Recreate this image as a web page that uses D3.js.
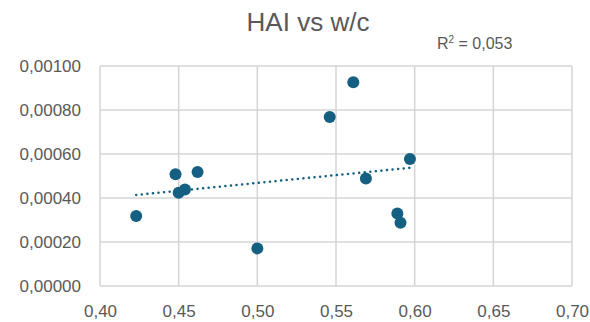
<!DOCTYPE html>
<html>
<head>
<meta charset="utf-8">
<script src="https://cdnjs.cloudflare.com/ajax/libs/d3/7.8.5/d3.min.js"></script>
<style>
  body { margin: 0; background: #fff; }
  text { font-family: "Liberation Sans", Arial, sans-serif; fill: #595959; }
</style>
</head>
<body>
<script>
// w/c ratio and HAI values
const wc  = [0.423, 0.448, 0.462, 0.450, 0.454, 0.500, 0.561, 0.546, 0.597, 0.569, 0.589, 0.591];
const hai = [0.000318, 0.000508, 0.000518, 0.000424, 0.000439, 0.000171, 0.000926, 0.000768, 0.000577, 0.000489, 0.000330, 0.000288];
const xTicks = [0.40, 0.45, 0.50, 0.55, 0.60, 0.65, 0.70];
const yTicks = [0, 0.0002, 0.0004, 0.0006, 0.0008, 0.001];
const rSquaredLabel = "0,053";

const w = 590, h = 322;
const padL = 100, padR = 572, padT = 66, padB = 286;
const blue = "#156082";

const data = wc.map((x, i) => ({x: x, y: hai[i]}));

const svg = d3.select("body").append("svg")
  .attr("width", w)
  .attr("height", h);

const xScale = d3.scaleLinear().domain([0.40, 0.70]).range([padL, padR]);
const yScale = d3.scaleLinear().domain([0, 0.001]).range([padB, padT]);

const comma = s => s.replace(".", ",");

// gridlines
svg.append("g")
  .selectAll("line")
  .data(xTicks)
  .enter().append("line")
  .attr("x1", d => xScale(d)).attr("x2", d => xScale(d))
  .attr("y1", padT).attr("y2", padB)
  .attr("stroke", "#d4d4d4").attr("stroke-width", 1.5);

svg.append("g")
  .selectAll("line")
  .data(yTicks)
  .enter().append("line")
  .attr("x1", padL).attr("x2", padR)
  .attr("y1", d => yScale(d)).attr("y2", d => yScale(d))
  .attr("stroke", "#d4d4d4").attr("stroke-width", 1.5);

// axes (labels only, Excel style)
const xAxis = d3.axisBottom(xScale).tickValues(xTicks)
  .tickFormat(d => comma(d3.format(".2f")(d))).tickSize(0).tickPadding(19);
const yAxis = d3.axisLeft(yScale).tickValues(yTicks)
  .tickFormat(d => comma(d3.format(".5f")(d))).tickSize(0).tickPadding(19);

svg.append("g")
  .attr("transform", "translate(0," + padB + ")")
  .call(xAxis)
  .call(g => g.select(".domain").remove())
  .selectAll("text")
  .style("font-size", "17px").attr("fill", "#595959");

svg.append("g")
  .attr("transform", "translate(" + padL + ",0)")
  .call(yAxis)
  .call(g => g.select(".domain").remove())
  .selectAll("text")
  .style("font-size", "17px").attr("fill", "#595959");

// linear trendline
const mx = d3.mean(data, d => d.x), my = d3.mean(data, d => d.y);
const slope = d3.sum(data, d => (d.x - mx) * (d.y - my)) / d3.sum(data, d => (d.x - mx) * (d.x - mx));
const icpt = my - slope * mx;
const xs = d3.extent(wc);

svg.append("line")
  .attr("x1", xScale(xs[0])).attr("y1", yScale(icpt + slope * xs[0]))
  .attr("x2", xScale(xs[1])).attr("y2", yScale(icpt + slope * xs[1]))
  .attr("stroke", blue)
  .attr("stroke-width", 2.5)
  .attr("stroke-linecap", "round")
  .attr("stroke-dasharray", "0.1 5.5");

// points
svg.selectAll("circle")
  .data(data)
  .enter().append("circle")
  .attr("cx", d => xScale(d.x))
  .attr("cy", d => yScale(d.y))
  .attr("r", 6)
  .attr("fill", blue);

// title
svg.append("text")
  .attr("x", 308).attr("y", 31)
  .attr("text-anchor", "middle")
  .style("font-size", "26px")
  .text("HAI vs w/c");

// R² label
const rt = svg.append("text")
  .attr("x", 437).attr("y", 49)
  .style("font-size", "16px");
rt.append("tspan").text("R");
rt.append("tspan").attr("dy", -6).style("font-size", "10px").text("2");
rt.append("tspan").attr("dy", 6).text(" = " + rSquaredLabel);
</script>
</body>
</html>
